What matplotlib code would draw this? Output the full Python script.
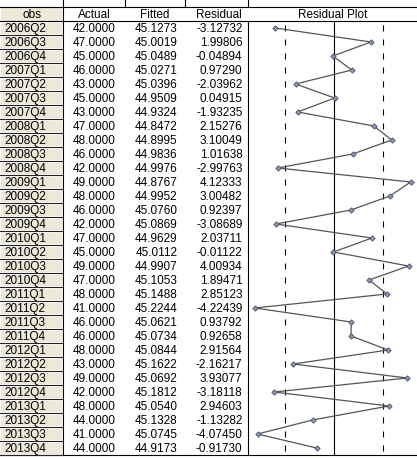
import numpy as np
import matplotlib
matplotlib.use("Agg")
import matplotlib.pyplot as plt
from matplotlib.patches import Rectangle

plt.rcParams['font.family'] = ['Liberation Sans', 'DejaVu Sans']

obs = ["2006Q2", "2006Q3", "2006Q4",
       "2007Q1", "2007Q2", "2007Q3", "2007Q4",
       "2008Q1", "2008Q2", "2008Q3", "2008Q4",
       "2009Q1", "2009Q2", "2009Q3", "2009Q4",
       "2010Q1", "2010Q2", "2010Q3", "2010Q4",
       "2011Q1", "2011Q2", "2011Q3", "2011Q4",
       "2012Q1", "2012Q2", "2012Q3", "2012Q4",
       "2013Q1", "2013Q2", "2013Q3", "2013Q4"]
actual = [42, 47, 45, 46, 43, 45, 43, 47, 48, 46, 42, 49, 48, 46, 42, 47,
          45, 49, 47, 48, 41, 46, 46, 48, 43, 49, 42, 48, 44, 41, 44]
fitted = [45.1273, 45.0019, 45.0489, 45.0271, 45.0396, 44.9509, 44.9324,
          44.8472, 44.8995, 44.9836, 44.9976, 44.8767, 44.9952, 45.0760,
          45.0869, 44.9629, 45.0112, 44.9907, 45.1053, 45.1488, 45.2244,
          45.0621, 45.0734, 45.0844, 45.1622, 45.0692, 45.1812, 45.0540,
          45.1328, 45.0745, 44.9173]
residual = [-3.12732, 1.99806, -0.04894, 0.97290, -2.03962, 0.04915, -1.93235,
            2.15276, 3.10049, 1.01638, -2.99763, 4.12333, 3.00482, 0.92397,
            -3.08689, 2.03711, -0.01122, 4.00934, 1.89471, 2.85123, -4.22439,
            0.93792, 0.92658, 2.91564, -2.16217, 3.93077, -3.18118, 2.94603,
            -1.13282, -4.07450, -0.91730]
headers = ["obs", "Actual", "Fitted", "Residual", "Residual Plot"]
se_band = 2.63  # S.E. band shown by dashed lines

W, H = 417, 459
fig = plt.figure(figsize=(W / 100, H / 100), dpi=100)
fig.patch.set_facecolor("white")

# pixel-coordinate layer for the table
ax0 = fig.add_axes([0, 0, 1, 1])
ax0.set_xlim(0, W)
ax0.set_ylim(H, 0)
ax0.axis("off")

n = len(obs)
top, head_bot, row_h = 6.5, 21.0, 14.0
bottom = head_bot + n * row_h
beige = "#ECE9D8"
fs = 8.5
lw1 = 0.8

# top line and ticks
ax0.plot([0, W], [top, top], color="black", lw=lw1)
for x in [63, 125, 185, 248]:
    ax0.plot([x, x], [0, top], color="black", lw=lw1)

# header obs cell
ax0.add_patch(Rectangle((0.5, top + 0.5), 62, head_bot - top - 1, facecolor=beige, edgecolor="none"))
ax0.plot([0, W], [head_bot, head_bot], color="black", lw=lw1)
ax0.plot([63, 63], [top, bottom], color="black", lw=lw1)
ax0.plot([248, 248], [head_bot, bottom], color="black", lw=lw1)
ax0.plot([0, W], [bottom, bottom], color="black", lw=lw1)

hy = (top + head_bot) / 2 + 4
ax0.text(32, hy, headers[0], ha="center", va="baseline", fontsize=fs)
ax0.text(94, hy, headers[1], ha="center", va="baseline", fontsize=fs)
ax0.text(155, hy, headers[2], ha="center", va="baseline", fontsize=fs)
ax0.text(242, hy, headers[3], ha="right", va="baseline", fontsize=fs)
ax0.text(333, hy, headers[4], ha="center", va="baseline", fontsize=fs)

for i in range(n):
    y0 = head_bot + i * row_h
    ax0.add_patch(Rectangle((0.5, y0 + 1.5), 61.5, row_h - 2.5, facecolor=beige, edgecolor="none"))
    ax0.plot([0, 62], [y0 + row_h - 0.5, y0 + row_h - 0.5], color="#222222", lw=lw1)
    yb = y0 + row_h / 2 + 4
    ax0.text(4, yb, obs[i], ha="left", va="baseline", fontsize=fs)
    ax0.text(115.5, yb, f"{actual[i]:.4f}", ha="right", va="baseline", fontsize=fs)
    ax0.text(177.5, yb, f"{fitted[i]:.4f}", ha="right", va="baseline", fontsize=fs)
    ax0.text(242.5, yb, f"{residual[i]:.5f}", ha="right", va="baseline", fontsize=fs)

# residual plot axes
ax = fig.add_axes([248 / W, (H - bottom) / H, (W - 248) / W, (bottom - head_bot) / H])
ax.set_xlim(-4.588, 4.459)
ax.set_ylim(n - 0.5, -0.5)
ax.axis("off")
rows = np.arange(n)
ax.axvline(0, color="black", lw=lw1)
for s in (-se_band, se_band):
    ax.vlines(np.full(n, s), rows - 0.2, rows + 0.2, color="black", lw=lw1)
ax.plot(residual, rows, color="#555555", lw=0.9, marker="D", markersize=2.8,
        markerfacecolor="#8a96b0", markeredgecolor="#3c4660", markeredgewidth=0.5)

fig.savefig("out.png", dpi=100, facecolor="white")
